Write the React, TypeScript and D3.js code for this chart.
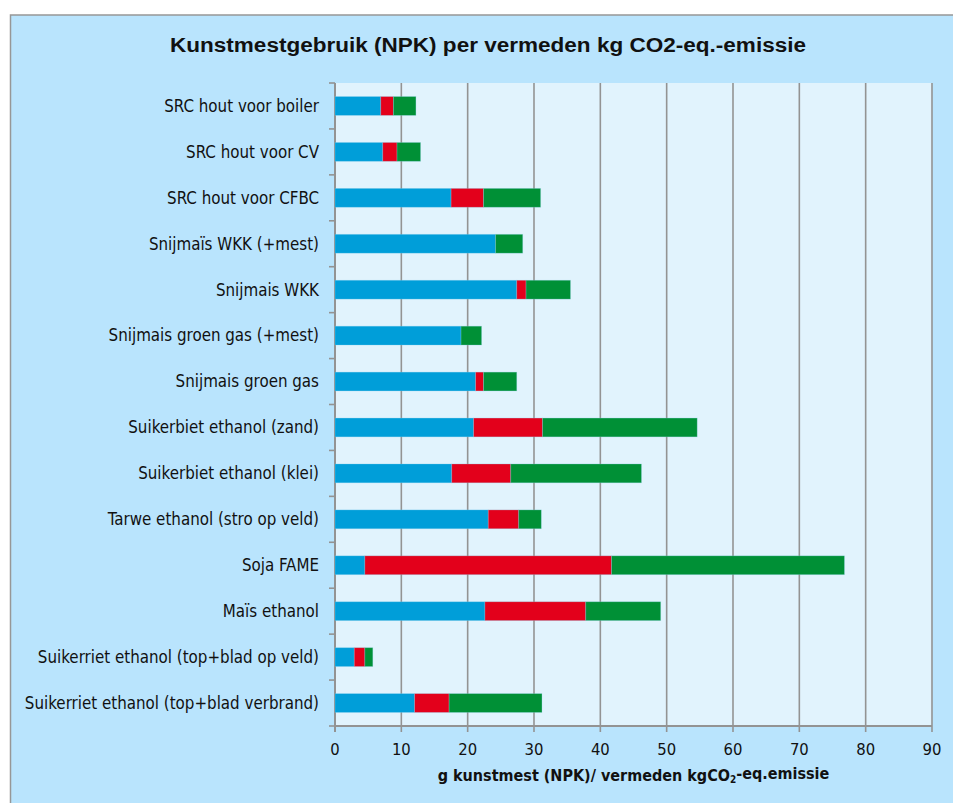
import React from 'react';
import * as d3 from 'd3';

const categories = [
  'SRC hout voor boiler',
  'SRC hout voor CV',
  'SRC hout voor CFBC',
  'Snijmaïs WKK (+mest)',
  'Snijmais WKK',
  'Snijmais groen gas (+mest)',
  'Snijmais groen gas',
  'Suikerbiet ethanol (zand)',
  'Suikerbiet ethanol (klei)',
  'Tarwe ethanol (stro op veld)',
  'Soja FAME',
  'Maïs ethanol',
  'Suikerriet ethanol (top+blad op veld)',
  'Suikerriet ethanol (top+blad verbrand)',
];

// three components per bar
const seriesN = [6.9, 7.2, 17.5, 24.2, 27.4, 19.0, 21.2, 20.9, 17.6, 23.1, 4.5, 22.6, 2.9, 12.0];
const seriesP = [1.9, 2.15, 4.9, 0, 1.4, 0, 1.2, 10.4, 8.9, 4.6, 37.2, 15.2, 1.6, 5.2];
const seriesK = [3.4, 3.55, 8.6, 4.1, 6.7, 3.1, 5.0, 23.3, 19.7, 3.4, 35.1, 11.3, 1.2, 14.0];

const xTicks = [0, 10, 20, 30, 40, 50, 60, 70, 80, 90];
const seriesKeys = ['N', 'P', 'K'];
const seriesColors = ['#009ed9', '#e3001b', '#009036'];

const W = 953;
const H = 803;
const margin = { top: 83, right: 21, bottom: 77, left: 335 };

const labelFont = '"DejaVu Sans Condensed", "DejaVu Sans", Verdana, sans-serif';

export default function App() {
  const innerW = W - margin.left - margin.right;
  const innerH = H - margin.top - margin.bottom;

  const x = d3.scaleLinear().domain([0, 90]).range([0, innerW]);
  const y = d3.scaleBand<string>().domain(categories).range([0, innerH]).paddingInner(0.59).paddingOuter(0.295);
  const band = d3.scaleBand<string>().domain(categories).range([0, innerH]);

  const rows = categories.map((c, i) => ({ cat: c, N: seriesN[i], P: seriesP[i], K: seriesK[i] }));
  const stacked = d3.stack<any>().keys(seriesKeys)(rows);

  return (
    <svg width={W} height={H} style={{ position: 'absolute', left: 0, top: 0 }}>
      <rect x={10.5} y={15} width={W + 10} height={H + 10} fill="#b9e4fd" stroke="#979797" strokeWidth={1.5} />
      <text x={488} y={52} textAnchor="middle" fontFamily='"Liberation Sans", Arial, sans-serif' fontWeight="bold" fontSize={19.5} fill="#111"
        textLength={636} lengthAdjust="spacingAndGlyphs">
        Kunstmestgebruik (NPK) per vermeden kg CO2-eq.-emissie
      </text>
      <g transform={`translate(${margin.left},${margin.top})`}>
        <rect x={0} y={0} width={innerW} height={innerH} fill="#e1f3fd" />
        {xTicks.map(t => (
          <line key={t} x1={x(t)} x2={x(t)} y1={0} y2={innerH + 6} stroke="#939393" strokeWidth={t === 0 ? 2 : 1.6} />
        ))}
        {categories.map((c, i) => (
          <line key={'yt' + i} x1={-6} x2={0} y1={band(c)!} y2={band(c)!} stroke="#939393" strokeWidth={1.6} />
        ))}
        <line x1={-6} x2={0} y1={innerH} y2={innerH} stroke="#939393" strokeWidth={1.6} />
        <line x1={0} x2={innerW} y1={innerH} y2={innerH} stroke="#939393" strokeWidth={2} />
        {stacked.map((s, si) => (
          <g key={s.key} fill={seriesColors[si]}>
            {s.map((d, i) =>
              d[1] - d[0] > 0 ? (
                <rect
                  key={i}
                  x={x(d[0])}
                  y={y(categories[i])!}
                  width={x(d[1]) - x(d[0])}
                  height={y.bandwidth()}
                  stroke="#8fd0ee"
                  strokeOpacity={0.35}
                  strokeWidth={0.8}
                />
              ) : null
            )}
          </g>
        ))}
        {categories.map(c => (
          <text key={c} x={-16} y={band(c)! + band.bandwidth() / 2} dy="0.35em" textAnchor="end" fontFamily={labelFont} fontSize={16.8} fill="#111">
            {c}
          </text>
        ))}
        {xTicks.map(t => (
          <text key={'xl' + t} x={x(t)} y={innerH + 23} dy="0.35em" textAnchor="middle" fontFamily={labelFont} fontSize={16.5} fill="#111">
            {t}
          </text>
        ))}
        <text x={x(45)} y={innerH + 49} dy="0.35em" textAnchor="middle" fontFamily={labelFont} fontSize={16} fontWeight="bold" fill="#111">
          g kunstmest (NPK)/ vermeden kgCO<tspan fontSize={10} dy="0.25em">2</tspan><tspan dy="-0.25em">-eq.emissie</tspan>
        </text>
      </g>
    </svg>
  );
}
